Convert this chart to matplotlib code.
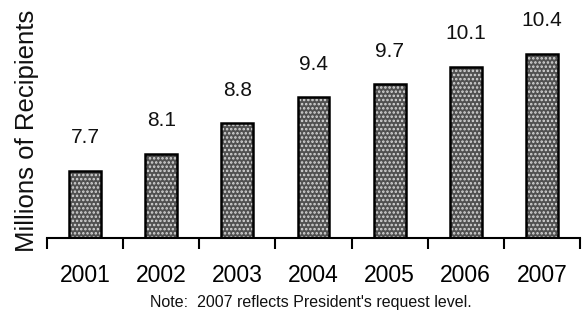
import matplotlib
matplotlib.use("Agg")
import matplotlib.pyplot as plt
import numpy as np

years = ["2001", "2002", "2003", "2004", "2005", "2006", "2007"]
values = [7.7, 8.1, 8.8, 9.4, 9.7, 10.1, 10.4]
value_labels = ["7.7", "8.1", "8.8", "9.4", "9.7", "10.1", "10.4"]
ylabel = "Millions of Recipients"
note = "Note:  2007 reflects President's request level."

plt.rcParams['font.family'] = ['Liberation Sans', 'DejaVu Sans']
plt.rcParams['hatch.linewidth'] = 1.2

fig = plt.figure(figsize=(5.84, 3.19), dpi=100)
W, H = 584, 319
ax = fig.add_axes([47 / W, 1 - 238 / H, (580 - 47) / W, 238 / H])

x = np.arange(len(years))
bw = 0.42
ax.bar(x, values, width=bw, color="#505050", edgecolor="#d8d8d8",
       hatch="....", linewidth=0, zorder=2)
ax.bar(x, values, width=bw, fill=False, edgecolor="black", linewidth=1.8, zorder=3)

ymin, ymax = 6.15, 11.65
ax.set_ylim(ymin, ymax)
ax.set_xlim(-0.5, len(years) - 0.5)

for xi, v, lab in zip(x, values, value_labels):
    ax.annotate(lab, (xi, v), xytext=(0, 17), textcoords="offset points",
                ha="center", va="bottom", fontsize=15, color="#111111")

for s in ["top", "right", "left"]:
    ax.spines[s].set_visible(False)
ax.spines["bottom"].set_linewidth(1.5)
ax.set_yticks([])

ax.set_xticks(x)
ax.set_xticklabels(years, fontsize=16.5)
ax.tick_params(axis="x", which="major", length=0, pad=19)
ax.set_xticks(np.arange(-0.5, len(years)), minor=True)
ax.tick_params(axis="x", which="minor", length=8, width=1.5, direction="out")

fig.text(15 / W, 1 - 131 / H, ylabel, rotation=90, fontsize=18.5,
         ha="left", va="center", color="#111111")
fig.text(311 / W, 1 - 302 / H, note, fontsize=11.5, ha="center", va="center",
         color="#111111")

fig.savefig("out.png", dpi=100)
